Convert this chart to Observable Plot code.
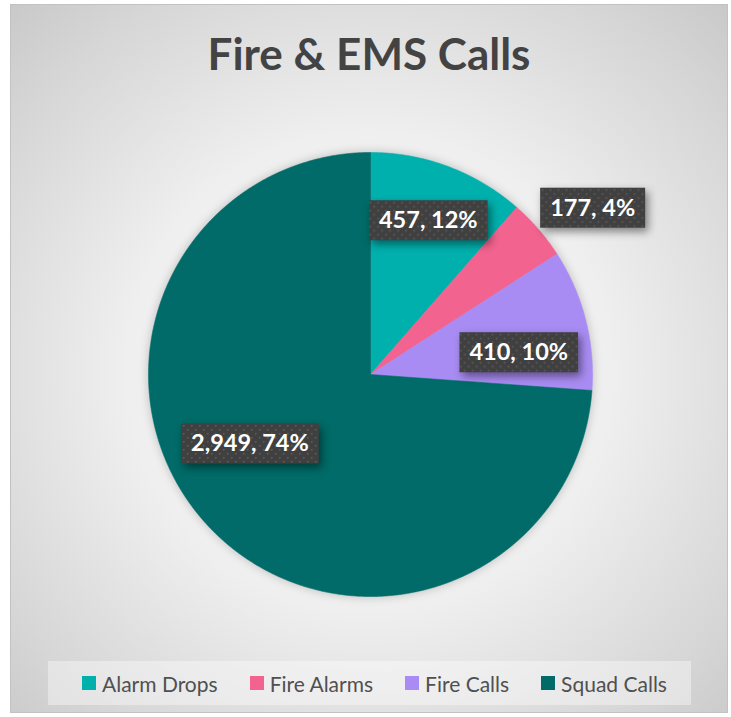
<!DOCTYPE html>
<html><head><meta charset="utf-8">
<script src="https://cdn.jsdelivr.net/npm/d3@7"></script>
<script src="https://cdn.jsdelivr.net/npm/@observablehq/plot@0.6"></script>
<style>
body{margin:0;background:#fff;width:731px;height:717px;overflow:hidden;font-family:Lato,sans-serif;}
#frame{position:absolute;left:10px;top:4px;width:716px;height:707px;border:1px solid #c2c2c2;
 background:radial-gradient(ellipse 75% 75% at 50% 52%, #f8f8f8 0%, #efefef 45%, #d6d6d6 80%, #c6c6c6 100%);overflow:hidden}
#title{position:absolute;left:0;right:0;top:22px;text-align:center;font-weight:700;font-size:44px;line-height:1.2;color:#434343;font-family:Lato,sans-serif}
#chart{position:absolute;left:0;top:106px}
#legend{position:absolute;left:37px;top:656px;width:643px;height:44px;background:rgba(255,255,255,0.38);display:flex;align-items:center;justify-content:center}
#legend .lg-swatches{font-family:Lato,sans-serif;font-size:21px;color:#505050;margin:0 0 0 10px;display:flex;align-items:center;}
#legend .lg-swatch{margin-right:32px;}
#legend .lg-swatch:last-child{margin-right:0}
#legend .lg-swatch > svg{margin-right:6px}
</style>
</head><body>
<div id="frame">
  <div id="title">Fire &amp; EMS Calls</div>
  <div id="chart"></div>
  <div id="legend"></div>
</div>
<script>
const categories = ["Alarm Drops", "Fire Alarms", "Fire Calls", "Squad Calls"];
const calls = [457, 177, 410, 2949];
const percentLabels = ["12%", "4%", "10%", "74%"];
const colors = ["#00B0AD", "#F2638F", "#A98CF3", "#006B68"];

// layout (label best-fit placement, in units of radius / degrees)
const labelFit = {
  "Alarm Drops": {r: 0.74, shift: 0},
  "Fire Alarms": {r: 1.25, shift: 4},
  "Fire Calls": {r: 0.675, shift: 6},
  "Squad Calls": {r: 0.627, shift: 13}
};

const W = 716, H = 540, R = 222, cx = 359, cy = 263;
const arcs = d3.pie().sort(null).value(d => d)(calls);

const slicePts = [];
arcs.forEach((a, i) => {
  const cat = categories[i];
  slicePts.push({cat, x: 0, y: 0});
  const n = Math.ceil((a.endAngle - a.startAngle) / (Math.PI / 720));
  for (let k = 0; k <= n; k++) {
    const t = a.startAngle + (a.endAngle - a.startAngle) * k / n;
    slicePts.push({cat, x: Math.sin(t), y: Math.cos(t)});
  }
  slicePts.push({cat, x: 0, y: 0});
});

const labels = arcs.map((a, i) => {
  const cat = categories[i];
  const f = labelFit[cat];
  const m = (a.startAngle + a.endAngle) / 2 + f.shift * Math.PI / 180;
  return {cat, x: Math.sin(m) * f.r, y: Math.cos(m) * f.r,
          text: d3.format(",")(calls[i]) + ", " + percentLabels[i]};
});

const plot = Plot.plot({
  width: W, height: H, margin: 0,
  x: {domain: [-cx / R, (W - cx) / R], range: [0, W], axis: null},
  y: {domain: [-(H - cy) / R, cy / R], range: [H, 0], axis: null},
  color: {domain: categories, range: colors},
  style: {background: "transparent", overflow: "visible"},
  marks: [
    Plot.line(slicePts, {x: "x", y: "y", z: "cat", fill: "cat", stroke: "cat", strokeWidth: 0.6, curve: "linear"}),
    Plot.text(labels, {x: "x", y: "y", text: "text", fill: "white", fontWeight: "bold", fontSize: 23.5, fontFamily: "Lato, sans-serif"})
  ]
});
document.getElementById("chart").appendChild(plot);

// pie shadow
const lineG = plot.querySelector('g[aria-label="line"]');
if (lineG) lineG.style.filter = "drop-shadow(0px 0px 5px rgba(0,0,0,0.22))";

// dotted pattern for label boxes
const ns = "http://www.w3.org/2000/svg";
const defs = document.createElementNS(ns, "defs");
defs.innerHTML = '<pattern id="dots" width="8" height="8" patternUnits="userSpaceOnUse">' +
  '<rect width="8" height="8" fill="#404040"/>' +
  '<rect x="1" y="1" width="1.6" height="1.6" fill="#5c5c5c"/>' +
  '<rect x="5" y="5" width="1.6" height="1.6" fill="#5c5c5c"/></pattern>';
plot.insertBefore(defs, plot.firstChild);

const textG = plot.querySelector('g[aria-label="text"]');
if (textG) {
  textG.querySelectorAll("text").forEach(t => {
    const b = t.getBBox();
    const rect = document.createElementNS(ns, "rect");
    const padX = 10, h = 40;
    const midY = b.y + b.height / 2 + 1;
    rect.setAttribute("x", b.x - padX);
    rect.setAttribute("y", midY - h / 2);
    rect.setAttribute("width", b.width + 2 * padX);
    rect.setAttribute("height", h);
    rect.setAttribute("fill", "url(#dots)");
    rect.style.filter = "drop-shadow(3px 4px 4px rgba(0,0,0,0.45))";
    const tr = t.getAttribute("transform");
    if (tr) rect.setAttribute("transform", tr);
    t.parentNode.insertBefore(rect, t);
  });
}

const leg = plot.legend("color", {swatchSize: 14, className: "lg"});
document.getElementById("legend").appendChild(leg);
</script>
</body></html>
